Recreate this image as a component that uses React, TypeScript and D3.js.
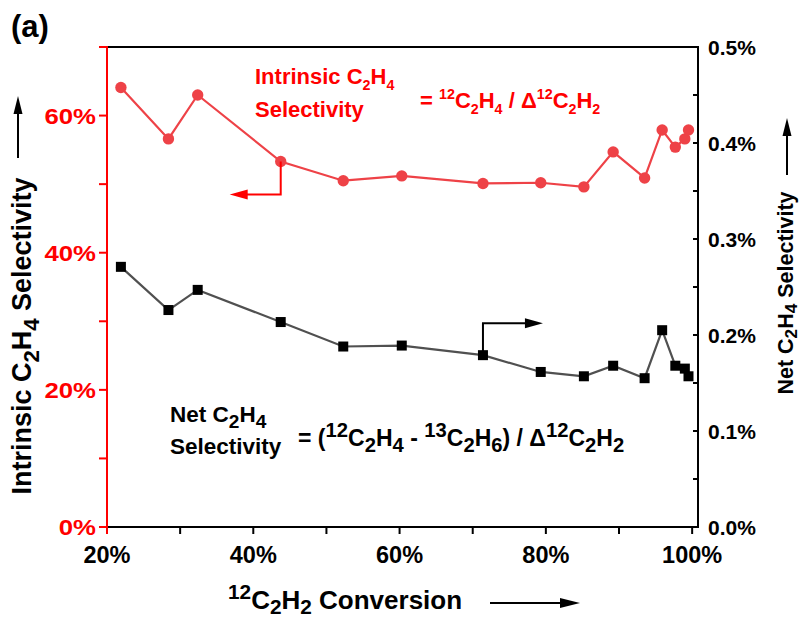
import React from "react";
import * as d3 from "d3";

// 12C2H2 conversion (%) for each run
const conversion = [21.9, 28.4, 32.4, 43.75, 52.3, 60.3, 71.4, 79.3, 85.2, 89.2, 93.5, 95.9, 97.7, 99.0, 99.5];
// Intrinsic C2H4 selectivity (%), left axis
const intrinsicSel = [64.1, 56.6, 63.0, 53.3, 50.5, 51.2, 50.1, 50.2, 49.6, 54.7, 50.9, 57.9, 55.4, 56.6, 57.9];
// Net C2H4 selectivity (%), right axis
const netSel = [0.271, 0.226, 0.247, 0.2135, 0.188, 0.189, 0.179, 0.1615, 0.157, 0.168, 0.155, 0.205, 0.168, 0.165, 0.157];

const xTicks = [20, 30, 40, 50, 60, 70, 80, 90, 100];
const xTickLabels = [20, 40, 60, 80, 100];
const leftTicks = [0, 10, 20, 30, 40, 50, 60, 70];
const leftTickLabels = [0, 20, 40, 60];
const rightTicks = [0, 0.05, 0.1, 0.15, 0.2, 0.25, 0.3, 0.35, 0.4, 0.45, 0.5];
const rightTickLabels = [0, 0.1, 0.2, 0.3, 0.4, 0.5];

const W = 802;
const H = 619;
const plot = { left: 107, right: 698, top: 47, bottom: 527 };

const FONT = "'Liberation Sans', Arial, Helvetica, sans-serif";
const AXIS_RED = "#ff0000";
const DATA_RED = "#ee4247";
const NET_LINE = "#505050";

type Seg = [string, "" | "sub" | "sup"];

// Text with sub/superscripts; `s` is the relative size of the small glyphs,
// `sub` the downward shift of subscripts in ems
function Rich({ segs, fs, s = 0.72, sub = 0.28 }: { segs: Seg[]; fs: number; s?: number; sub?: number }) {
  let cur = 0;
  return (
    <>
      {segs.map(([t, k], i) => {
        const target = k === "sub" ? fs * sub : k === "sup" ? -fs * 0.4 : 0;
        const dy = target - cur;
        cur = target;
        return (
          <tspan key={i} dy={dy} fontSize={k ? fs * s : fs}>
            {t}
          </tspan>
        );
      })}
    </>
  );
}

const c2h4: Seg[] = [["C", ""], ["2", "sub"], ["H", ""], ["4", "sub"]];

export default function App() {
  const x = d3.scaleLinear().domain([20, 100.8]).range([plot.left, plot.right]);
  const yL = d3.scaleLinear().domain([0, 70]).range([plot.bottom, plot.top]);
  const yR = d3.scaleLinear().domain([0, 0.5]).range([plot.bottom, plot.top]);

  const intrinsicLine = d3
    .line<number>()
    .x((_, i) => x(conversion[i]))
    .y((d) => yL(d));
  const netLine = d3
    .line<number>()
    .x((_, i) => x(conversion[i]))
    .y((d) => yR(d));

  const pctFmt = d3.format(".0f");
  const rFmt = d3.format(".1f");

  // connector arrows from a series point to its axis
  const redPt = { x: x(conversion[3]), y: yL(intrinsicSel[3]) };
  const redElbowY = redPt.y + 33;
  const redTipX = redPt.x - 51;
  const blkPt = { x: x(conversion[6]), y: yR(netSel[6]) };
  const blkElbowY = blkPt.y - 32;
  const blkTipX = blkPt.x + 60;

  return (
    <svg
      width={W}
      height={H}
      style={{ position: "absolute", left: 0, top: 0, background: "#fff" }}
      fontFamily={FONT}
      fontWeight="bold"
    >
      <text x={11} y={37} fontSize={31}>
        (a)
      </text>

      {/* frame */}
      <line x1={plot.left} x2={plot.right} y1={plot.top} y2={plot.top} stroke="#000" strokeWidth={2} />
      <line x1={plot.left} x2={plot.right + 1} y1={plot.bottom} y2={plot.bottom} stroke="#000" strokeWidth={2} />
      <line x1={plot.right} x2={plot.right} y1={plot.top - 1} y2={plot.bottom + 1} stroke="#000" strokeWidth={2} />

      {/* bottom axis */}
      {xTicks.map((t) => (
        <line key={t} x1={x(t)} x2={x(t)} y1={plot.bottom} y2={plot.bottom + 7} stroke="#000" strokeWidth={2} />
      ))}
      {xTickLabels.map((t) => (
        <text key={t} x={x(t)} y={563} fontSize={23.5} textAnchor="middle">
          {pctFmt(t)}%
        </text>
      ))}

      {/* left axis */}
      <line x1={plot.left} x2={plot.left} y1={plot.top - 1} y2={plot.bottom + 7} stroke={AXIS_RED} strokeWidth={2} />
      {leftTicks.map((t) => (
        <line key={t} x1={plot.left - 8} x2={plot.left} y1={yL(t)} y2={yL(t)} stroke={AXIS_RED} strokeWidth={2} />
      ))}
      {leftTickLabels.map((t) => (
        <text
          key={t}
          transform={`translate(${plot.left - 11},${yL(t) + 8}) scale(1.12,1)`}
          fontSize={23}
          textAnchor="end"
          fill={AXIS_RED}
        >
          {pctFmt(t)}%
        </text>
      ))}

      {/* right axis */}
      {rightTicks.map((t) => (
        <line key={t} x1={plot.right - 5} x2={plot.right} y1={yR(t)} y2={yR(t)} stroke="#000" strokeWidth={2} />
      ))}
      {rightTickLabels.map((t) => (
        <text key={t} x={plot.right + 10} y={yR(t) + 7.5} fontSize={21}>
          {rFmt(t)}%
        </text>
      ))}

      {/* axis titles */}
      <text transform="translate(31,336) rotate(-90)" fontSize={27} textAnchor="middle">
        <Rich segs={[["Intrinsic ", ""], ...c2h4, [" Selectivity", ""]]} fs={27} s={0.82} />
      </text>
      <line x1={18} x2={18} y1={158} y2={112} stroke="#000" strokeWidth={2} />
      <polygon points="18,96 13.5,114 22.5,114" fill="#000" />

      <text transform="translate(793,293) rotate(-90)" fontSize={21.5} textAnchor="middle">
        <Rich segs={[["Net ", ""], ...c2h4, [" Selectivity", ""]]} fs={21.5} s={0.8} sub={0.2} />
      </text>
      <line x1={787} x2={787} y1={175} y2={134} stroke="#000" strokeWidth={2} />
      <polygon points="787,118 782.5,136 791.5,136" fill="#000" />

      <text x={228} y={609} fontSize={26}>
        <Rich
          segs={[["12", "sup"], ["C", ""], ["2", "sub"], ["H", ""], ["2", "sub"], [" Conversion", ""]]}
          fs={26}
          s={0.8}
          sub={0.2}
        />
      </text>
      <line x1={490} x2={562} y1={603} y2={603} stroke="#000" strokeWidth={2} />
      <polygon points="580,603 560,598 560,608" fill="#000" />

      {/* intrinsic selectivity series */}
      <path d={intrinsicLine(intrinsicSel) || ""} fill="none" stroke={DATA_RED} strokeWidth={2.2} />
      {intrinsicSel.map((v, i) => (
        <circle key={i} cx={x(conversion[i])} cy={yL(v)} r={5.7} fill={DATA_RED} />
      ))}

      {/* net selectivity series */}
      <path d={netLine(netSel) || ""} fill="none" stroke={NET_LINE} strokeWidth={2.2} />
      {netSel.map((v, i) => (
        <rect key={i} x={x(conversion[i]) - 5} y={yR(v) - 5} width={10} height={10} fill="#000" />
      ))}

      {/* axis pointers */}
      <polyline
        points={`${redPt.x},${redPt.y} ${redPt.x},${redElbowY} ${redTipX + 16},${redElbowY}`}
        fill="none"
        stroke={AXIS_RED}
        strokeWidth={2}
      />
      <polygon
        points={`${redTipX},${redElbowY} ${redTipX + 18},${redElbowY - 5} ${redTipX + 18},${redElbowY + 5}`}
        fill={AXIS_RED}
      />
      <polyline
        points={`${blkPt.x},${blkPt.y} ${blkPt.x},${blkElbowY} ${blkTipX - 16},${blkElbowY}`}
        fill="none"
        stroke="#000"
        strokeWidth={2}
      />
      <polygon
        points={`${blkTipX},${blkElbowY} ${blkTipX - 18},${blkElbowY - 5} ${blkTipX - 18},${blkElbowY + 5}`}
        fill="#000"
      />

      {/* formula annotations */}
      <text x={255} y={84} fontSize={22} fill={AXIS_RED}>
        <Rich segs={[["Intrinsic ", ""], ...c2h4]} fs={22} s={0.65} />
      </text>
      <text x={255} y={117} fontSize={22} fill={AXIS_RED}>
        Selectivity
      </text>
      <text x={420} y={108} fontSize={22} fill={AXIS_RED}>
        <Rich
          segs={[
            ["= ", ""],
            ["12", "sup"],
            ...c2h4,
            [" / Δ", ""],
            ["12", "sup"],
            ["C", ""],
            ["2", "sub"],
            ["H", ""],
            ["2", "sub"],
          ]}
          fs={22}
          s={0.65}
        />
      </text>

      <text x={170} y={422} fontSize={22.5}>
        <Rich segs={[["Net ", ""], ...c2h4]} fs={22.5} s={0.85} />
      </text>
      <text x={170} y={454} fontSize={22.5}>
        Selectivity
      </text>
      <text x={298} y={446} fontSize={23}>
        <Rich
          segs={[
            ["= (", ""],
            ["12", "sup"],
            ...c2h4,
            [" - ", ""],
            ["13", "sup"],
            ["C", ""],
            ["2", "sub"],
            ["H", ""],
            ["6", "sub"],
            [") / Δ", ""],
            ["12", "sup"],
            ["C", ""],
            ["2", "sub"],
            ["H", ""],
            ["2", "sub"],
          ]}
          fs={23}
          s={0.88}
        />
      </text>
    </svg>
  );
}
